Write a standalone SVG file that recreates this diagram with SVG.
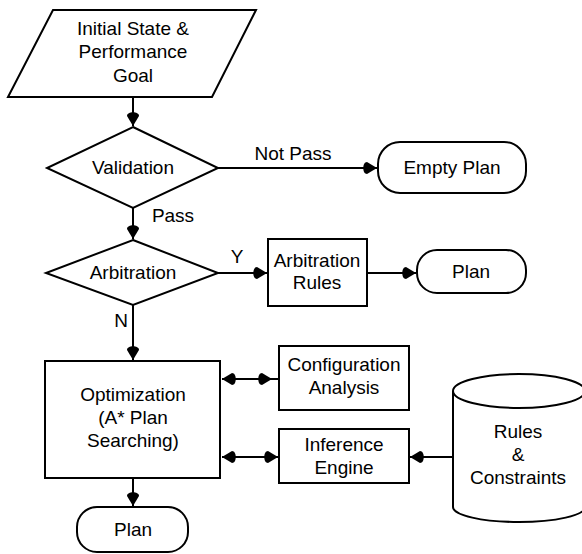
<svg xmlns="http://www.w3.org/2000/svg" width="582" height="554" viewBox="0 0 582 554">
<style>
.s{fill:#fff;stroke:#000;stroke-width:2}
.c{fill:none;stroke:#000;stroke-width:2}
text{font-family:"Liberation Sans",Arial,sans-serif;font-size:19px;fill:#000;text-anchor:middle}
</style>
<defs>
<marker id="arr" markerUnits="userSpaceOnUse" markerWidth="22" markerHeight="16" viewBox="-18 -8 22 16" refX="0" refY="0" orient="auto-start-reverse" overflow="visible">
<path d="M0,0 L-10,-6 C-15,-6 -15,6 -10,6 Z" fill="#000"/>
</marker>
</defs>
<rect width="582" height="554" fill="#fff"/>
<g id="connectors">
<path class="c" d="M133,97 V126" marker-end="url(#arr)"/>
<path class="c" d="M218,168 H377" marker-end="url(#arr)"/>
<path class="c" d="M133,208 V239" marker-end="url(#arr)"/>
<path class="c" d="M218,273 H267" marker-end="url(#arr)"/>
<path class="c" d="M367,273 H416" marker-end="url(#arr)"/>
<path class="c" d="M133,305 V360" marker-end="url(#arr)"/>
<path class="c" d="M222,379 H272" marker-start="url(#arr)" marker-end="url(#arr)"/>
<path class="c" d="M272,379 H279"/>
<path class="c" d="M222,457 H278" marker-start="url(#arr)" marker-end="url(#arr)"/>
<path class="c" d="M453,457 H410" marker-end="url(#arr)"/>
<path class="c" d="M133,478 V506" marker-end="url(#arr)"/>
<text x="293" y="160">Not Pass</text>
<text x="173" y="222">Pass</text>
<text x="237" y="263">Y</text>
<text x="121" y="327">N</text>
</g>
<g id="start">
<polygon class="s" points="53,10 256,10 212,97 8,97"/>
<text x="133" y="35">Initial State &amp;</text>
<text x="133" y="58">Performance</text>
<text x="133" y="82">Goal</text>
</g>
<g id="validation">
<polygon class="s" points="133,127 218,168 133,208 47,168"/>
<text x="133" y="174">Validation</text>
</g>
<g id="empty-plan">
<rect class="s" x="378" y="142" width="148" height="51" rx="22"/>
<text x="452" y="174">Empty Plan</text>
</g>
<g id="arbitration">
<polygon class="s" points="133,240 218,273 133,305 46,273"/>
<text x="133" y="279">Arbitration</text>
</g>
<g id="arbitration-rules">
<rect class="s" x="268" y="239" width="99" height="67"/>
<text x="317" y="267">Arbitration</text>
<text x="317" y="289">Rules</text>
</g>
<g id="plan-top">
<rect class="s" x="417" y="250" width="109" height="43" rx="20"/>
<text x="471" y="278">Plan</text>
</g>
<g id="optimization">
<rect class="s" x="45" y="361" width="175" height="117"/>
<text x="133" y="401">Optimization</text>
<text x="133" y="424">(A* Plan</text>
<text x="133" y="447">Searching)</text>
</g>
<g id="configuration">
<rect class="s" x="279" y="346" width="130" height="64"/>
<text x="344" y="371">Configuration</text>
<text x="344" y="394">Analysis</text>
</g>
<g id="inference">
<rect class="s" x="279" y="429" width="130" height="54"/>
<text x="344" y="451">Inference</text>
<text x="344" y="474">Engine</text>
</g>
<g id="rules">
<path class="s" d="M453,391 V507 A66,15 0 0 0 585,507 V391"/>
<ellipse class="s" cx="519" cy="391" rx="66" ry="17"/>
<text x="518" y="438">Rules</text>
<text x="518" y="461">&amp;</text>
<text x="518" y="484">Constraints</text>
</g>
<g id="plan-bottom">
<rect class="s" x="77" y="507" width="111" height="45" rx="20"/>
<text x="133" y="536">Plan</text>
</g>
</svg>
